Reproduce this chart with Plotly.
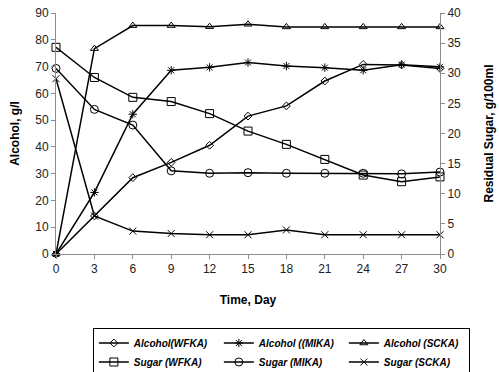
import plotly.graph_objects as go

days = [0, 3, 6, 9, 12, 15, 18, 21, 24, 27, 30]

alcohol_wfka = [0, 14.2, 28.5, 34.2, 40.6, 51.5, 55.3, 64.6, 70.8, 70.6, 69.3]
alcohol_mika = [0, 23.0, 52.2, 68.6, 69.7, 71.5, 70.2, 69.6, 68.6, 70.7, 69.9]
alcohol_scka = [0, 76.7, 85.3, 85.3, 84.9, 85.8, 84.8, 84.8, 84.8, 84.8, 84.8]

sugar_wfka = [34.3, 29.3, 26.0, 25.3, 23.3, 20.4, 18.2, 15.7, 13.1, 12.0, 12.8]
sugar_mika = [30.8, 24.0, 21.4, 13.8, 13.4, 13.5, 13.4, 13.4, 13.4, 13.3, 13.6]
sugar_scka = [29.1, 6.3, 3.8, 3.4, 3.2, 3.2, 4.0, 3.2, 3.2, 3.2, 3.2]

series = [
    ("Alcohol(WFKA)", alcohol_wfka, "y", "diamond-open", 6),
    ("Alcohol ((MIKA)", alcohol_mika, "y", "asterisk-open", 7),
    ("Alcohol (SCKA)", alcohol_scka, "y", "triangle-up-open", 7),
    ("Sugar (WFKA)", sugar_wfka, "y2", "square-open", 8),
    ("Sugar (MIKA)", sugar_mika, "y2", "circle-open", 8),
    ("Sugar (SCKA)", sugar_scka, "y2", "x-thin-open", 7),
]

fig = go.Figure()
for name, vals, ax, sym, sz in series:
    fig.add_trace(go.Scatter(
        x=days, y=vals, name=name, yaxis=ax, mode="lines+markers",
        line=dict(color="black", width=1.5),
        marker=dict(symbol=sym, size=sz, color="black", line=dict(color="black", width=1)),
        cliponaxis=False,
    ))

font_family = "Liberation Sans, Arial, sans-serif"
axis_common = dict(
    showgrid=False, zeroline=False, showline=True, linecolor="#8c8c8c", linewidth=1,
    ticks="outside", tickcolor="#8c8c8c", ticklen=4,
    tickfont=dict(family=font_family, size=12, color="#222"),
    ticklabeloverflow="allow",
)

fig.update_layout(
    width=499, height=372,
    margin=dict(l=56, r=59, t=13, b=118, autoexpand=False),
    paper_bgcolor="white", plot_bgcolor="white",
    font=dict(family=font_family, color="black"),
    xaxis=dict(range=[0, 30], tickmode="array", tickvals=days,
               title=dict(text="<b>Time, Day</b>", font=dict(size=12), standoff=20),
               **axis_common),
    yaxis=dict(range=[0, 90], dtick=10,
               title=dict(text="<b>Alcohol, g/l</b>", font=dict(size=12), standoff=13),
               **axis_common),
    yaxis2=dict(range=[0, 40], dtick=5, overlaying="y", side="right",
                title=dict(text="<b>Residual Sugar, g/100ml</b>", font=dict(size=12), standoff=24),
                **axis_common),
    showlegend=True,
    legend=dict(
        orientation="h", x=0.096, xanchor="left", y=-0.305, yanchor="top",
        bordercolor="black", borderwidth=1, bgcolor="white",
        font=dict(family=font_family, size=10, style="italic", weight="bold"),
        entrywidth=80, entrywidthmode="pixels",
        tracegroupgap=0, itemwidth=30,
    ),
)

fig.write_html("out.html", config={"displayModeBar": False},
               post_script="document.body.style.margin='0';")
